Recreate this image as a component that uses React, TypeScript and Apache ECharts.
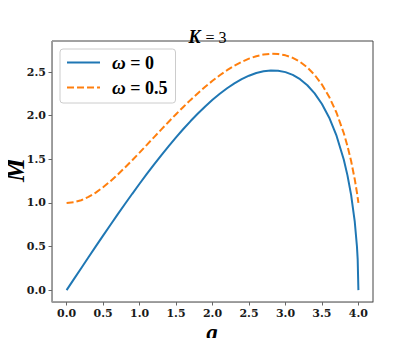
import React, { useEffect, useRef } from "react";
import * as echarts from "echarts";

const gValues = [
  0, 0.1, 0.2, 0.3, 0.4, 0.5, 0.6, 0.7, 0.8, 0.9, 1.0, 1.1, 1.2, 1.3, 1.4, 1.5, 1.6, 1.7, 1.8, 1.9,
  2.0, 2.1, 2.2, 2.3, 2.4, 2.5, 2.6, 2.7, 2.8, 2.9, 3.0, 3.1, 3.2, 3.3, 3.4, 3.5, 3.6, 3.7, 3.8,
  3.85, 3.9, 3.95, 3.98, 3.99, 4.0,
];
const mOmega0 = [
  0, 0.126, 0.2517, 0.3769, 0.5015, 0.6251, 0.7474, 0.8684, 0.9876, 1.1049, 1.22, 1.3326, 1.4424,
  1.5491, 1.6524, 1.7521, 1.8477, 1.9389, 2.0254, 2.1067, 2.1824, 2.252, 2.3151, 2.371, 2.4192,
  2.459, 2.4895, 2.5101, 2.5195, 2.5167, 2.5002, 2.4684, 2.4192, 2.3498, 2.2567, 2.135, 1.9772,
  1.7714, 1.4951, 1.316, 1.0919, 0.7845, 0.5008, 0.3553, 0,
];
const mOmega05 = [
  1, 1.0079, 1.0312, 1.0687, 1.1187, 1.1793, 1.2484, 1.3244, 1.4055, 1.4902, 1.5775, 1.6661,
  1.7551, 1.8438, 1.9314, 2.0174, 2.101, 2.1816, 2.2588, 2.332, 2.4006, 2.4641, 2.5219, 2.5732,
  2.6177, 2.6546, 2.6828, 2.702, 2.7107, 2.7081, 2.6928, 2.6633, 2.6177, 2.5538, 2.4683, 2.3576,
  2.2157, 2.0342, 1.7987, 1.6528, 1.4806, 1.271, 1.1184, 1.0612, 1,
];
const xTicks = [0, 0.5, 1.0, 1.5, 2.0, 2.5, 3.0, 3.5, 4.0];
const yTicks = [0, 0.5, 1.0, 1.5, 2.0, 2.5];
const seriesNames = ["ω = 0", "ω = 0.5"];
const xName = "g";
const yName = "M";

const SERIF = "'DejaVu Serif', 'Liberation Serif', serif";
const TIMES = "'Liberation Serif', 'DejaVu Serif', serif";

export default function App() {
  const ref = useRef<HTMLDivElement>(null);
  useEffect(() => {
    if (!ref.current) return;
    const chart = echarts.init(ref.current, null, { renderer: "svg" });
    const tickLabel = {
      fontFamily: SERIF,
      fontWeight: "bold" as const,
      fontSize: 11,
      color: "#1a1a1a",
    };
    chart.setOption({
      animation: false,
      backgroundColor: "#ffffff",
      title: {
        text: "{k|K} {r|= 3}",
        left: "center",
        top: 23,
        textStyle: {
          rich: {
            k: { fontFamily: TIMES, fontStyle: "italic", fontWeight: "bold", fontSize: 18, color: "#000" },
            r: { fontFamily: TIMES, fontWeight: "normal", fontSize: 16, color: "#000" },
          },
        },
      },
      graphic: [
        {
          type: "text",
          x: 15,
          y: 170,
          rotation: Math.PI / 2,
          style: {
            text: yName,
            fontFamily: TIMES,
            fontStyle: "italic",
            fontWeight: "bold",
            fontSize: 27,
            fill: "#000",
            align: "center",
            verticalAlign: "middle",
          },
        },
        {
          type: "text",
          x: 212,
          y: 332,
          style: {
            text: xName,
            fontFamily: TIMES,
            fontStyle: "italic",
            fontWeight: "bold",
            fontSize: 23,
            fill: "#000",
            align: "center",
            verticalAlign: "middle",
          },
        },
      ],
      legend: {
        orient: "vertical",
        left: 60,
        top: 49,
        padding: [4, 8, 6, 6],
        itemGap: 6,
        itemWidth: 33,
        itemHeight: 14,
        backgroundColor: "rgba(255,255,255,0.8)",
        borderColor: "#cccccc",
        borderWidth: 1,
        borderRadius: 3,
        itemStyle: { opacity: 0 },
        data: seriesNames,
        formatter: (name: string) => {
          const rest = name.replace("ω", "");
          return "{w|ω}{n|" + rest + "}";
        },
        textStyle: {
          padding: [0, 0, 0, 7],
          rich: {
            w: { fontFamily: TIMES, fontStyle: "italic", fontWeight: "bold", fontSize: 19, color: "#000" },
            n: { fontFamily: TIMES, fontWeight: "bold", fontSize: 18, color: "#000" },
          },
        },
      },
      grid: {
        left: 52,
        right: 42,
        top: 41,
        bottom: 44,
        outerBoundsMode: "none",
        containLabel: false,
        show: true,
        borderColor: "#444444",
        borderWidth: 1,
        backgroundColor: "transparent",
      },
      xAxis: {
        type: "value",
        min: -0.2,
        max: 4.2,
        axisLine: { show: true, onZero: false, lineStyle: { color: "#999999", width: 1 } },
        axisTick: { show: true, inside: false, length: 3.5, customValues: xTicks, lineStyle: { color: "#666" } },
        axisLabel: {
          ...tickLabel,
          margin: 6,
          customValues: xTicks,
          formatter: (v: number) => v.toFixed(1),
        },
        splitLine: { show: false },
      },
      yAxis: {
        type: "value",
        min: -0.136,
        max: 2.857,
        axisLine: { show: true, onZero: false, lineStyle: { color: "#999999", width: 1 } },
        axisTick: { show: true, inside: false, length: 3.5, customValues: yTicks, lineStyle: { color: "#666" } },
        axisLabel: {
          ...tickLabel,
          margin: 6,
          customValues: yTicks,
          formatter: (v: number) => v.toFixed(1),
        },
        splitLine: { show: false },
      },
      series: [
        {
          name: seriesNames[0],
          type: "line",
          showSymbol: false,
          symbol: "none",
          data: gValues.map((g, i) => [g, mOmega0[i]]),
          lineStyle: { color: "#1f77b4", width: 2 },
          itemStyle: { color: "#1f77b4" },
        },
        {
          name: seriesNames[1],
          type: "line",
          showSymbol: false,
          symbol: "none",
          data: gValues.map((g, i) => [g, mOmega05[i]]),
          lineStyle: { color: "#ff7f0e", width: 2, type: [7, 3] },
          itemStyle: { color: "#ff7f0e" },
        },
      ],
    });
    return () => chart.dispose();
  }, []);
  return <div ref={ref} style={{ width: 415, height: 346, margin: -8 }} />;
}
